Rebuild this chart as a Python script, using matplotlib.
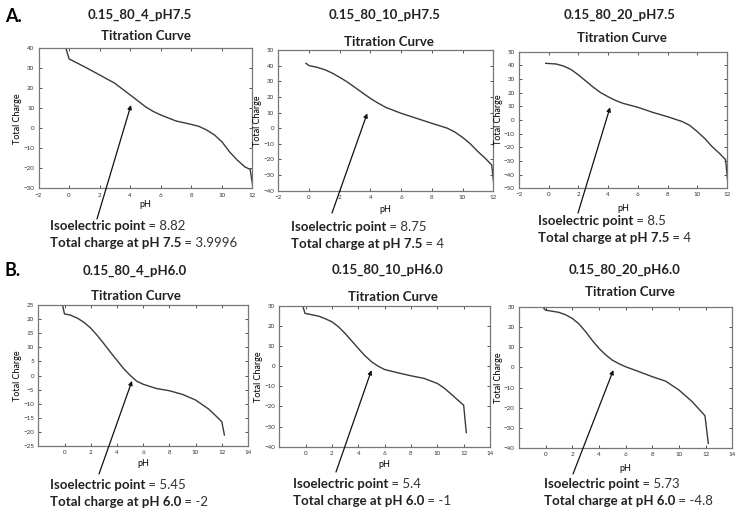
'''titration curves for six 0.15_80 runs, two pH conditions'''

import matplotlib
matplotlib.use('Agg')
import matplotlib.pyplot as plt

plt.rcParams['font.family'] = ['Lato', 'DejaVu Sans']

W, H = 743, 515

titles = ['0.15_80_4_pH7.5', '0.15_80_10_pH7.5', '0.15_80_20_pH7.5',
          '0.15_80_4_pH6.0', '0.15_80_10_pH6.0', '0.15_80_20_pH6.0']

# pH / total charge
ph_1 = [-0.22, 0, 1, 2, 3, 4, 4.5, 5, 5.5, 6, 7, 8, 8.5, 9, 9.5, 10, 10.5, 11, 11.5, 11.85, 12.0]
q_1 = [40.5, 34.7, 30.8, 26.7, 22.5, 16.7, 13.8, 10.8, 8.5, 6.7, 3.7, 2.0, 1.0, -0.8, -3.2, -6.7, -11.7, -15.8, -19.2, -20.5, -28]

ph_2 = [-0.2, 0, 0.5, 1, 1.5, 2, 2.5, 3, 3.5, 4, 4.5, 5, 6, 7, 8, 9, 9.5, 10, 10.5, 11, 11.5, 11.9, 12.05]
q_2 = [41.5, 40, 39, 37.5, 35.3, 32.5, 29.5, 26, 22.5, 19, 16, 13.3, 9.5, 6.3, 3.1, 0, -2.5, -5.9, -10, -15, -19.5, -23.6, -37.5]

ph_3 = [-0.2, 0.5, 1, 1.5, 2, 2.5, 3, 3.5, 4, 4.5, 5, 6, 7, 8, 9, 9.5, 10, 10.5, 11, 11.5, 11.9, 12.05]
q_3 = [41.5, 41, 39.5, 37, 33, 28.5, 24, 20, 17, 14.3, 12.2, 9.3, 5.6, 2.4, -1.2, -4, -8.5, -13.5, -19.5, -24.5, -29, -45]

ph_4 = [-0.15, 0, 0.4, 1, 1.5, 2, 2.5, 3, 3.5, 4, 4.5, 5, 5.5, 6, 7, 8, 9, 10, 11, 11.5, 12, 12.2]
q_4 = [25, 21.8, 21.5, 20.3, 18.8, 16.8, 14.2, 11.3, 8.3, 5.4, 2.5, 0.1, -2, -3.1, -4.6, -5.4, -6.7, -8.7, -11.9, -14.1, -16.4, -21.1]

ph_5 = [-0.2, -0.05, 1, 1.5, 2, 2.5, 3, 3.5, 4, 4.5, 5, 5.5, 6, 7, 8, 9, 10, 10.5, 11, 11.5, 12, 12.2]
q_5 = [29.5, 26.2, 24.8, 23.5, 22, 19.5, 16.2, 12.5, 8.8, 5.2, 2.2, 0, -1.7, -3.3, -4.8, -6.1, -8.6, -10.8, -13.6, -16.5, -19.4, -33]

ph_6 = [-0.05, -0.15, 0, 1, 1.5, 2, 2.5, 3, 3.5, 4, 4.5, 5, 5.5, 6, 7, 8, 9, 10, 11, 11.95, 12.2]
q_6 = [30, 29.2, 28.3, 27.2, 26, 24.2, 21.5, 17.6, 13.3, 9.4, 6.2, 3.6, 1.8, 0.3, -2.1, -4.6, -6.8, -11.2, -17, -23.9, -37.6]

ph_data = [ph_1, ph_2, ph_3, ph_4, ph_5, ph_6]
q_data = [q_1, q_2, q_3, q_4, q_5, q_6]

pi_vals = ['8.82', '8.75', '8.5', '5.45', '5.4', '5.73']
charge_ph = ['7.5', '7.5', '7.5', '6.0', '6.0', '6.0']
charge_vals = ['3.9996', '4', '4', '-2', '-1', '-4.8']

ylims = [(-30, 40), (-40, 50), (-50, 50), (-25, 25), (-40, 30), (-40, 30)]
ysteps = [10, 10, 10, 5, 10, 10]

# layout, all in figure pixels from top-left: axes box (left, right, top, bottom)
boxes = [(38.5, 252.5, 48.3, 188.5), (278.3, 493.3, 50, 190.7), (519, 727, 51.7, 188.3),
         (38.3, 248, 305, 446), (279.3, 490, 305.7, 446.7), (519, 732.3, 306.7, 448.3)]
title_pos = [(140, 15), (385, 15), (620, 15), (135, 271), (388, 270), (625, 270)]
sub_pos = [(146, 36), (389, 42), (622, 38), (136, 296), (393, 297), (630, 292)]
note_pos = [(50, 226), (291, 227), (538, 221), (50, 485), (293, 484), (544, 484)]
tail_pos = [(97, 219), (332, 213), (578, 213), (99, 474), (336, 472), (573, 474)]
heads = [(4.05, 11.7), (3.79, 9.5), (4.13, 9.3), (5.15, -1.9), (5.0, -2.0), (5.08, -1.3)]
xpads = [2, 4, 5, 3, 3, 5]


def fx(x):
    return x / W


def fy(y):
    return 1 - y / H


fig = plt.figure(figsize=(W / 100, H / 100), dpi=100)

fig.text(fx(5), fy(16), 'A.', fontsize=13, weight='bold', va='center')
fig.text(fx(5), fy(271), 'B.', fontsize=13, weight='bold', va='center')

for i in range(6):
    l, r, t, b = boxes[i]
    ax = fig.add_axes([fx(l), fy(b), (r - l) / W, (b - t) / H])
    ax.plot(ph_data[i], q_data[i], color='#3a3a3a', lw=1.0)

    top_row = i < 3
    if top_row:
        ax.set_xlim(-2, 12)
        ax.set_xticks(range(-2, 13, 2))
    else:
        ax.set_xlim(-2, 14)
        ax.set_xticks(range(0, 15, 2))
    lo, hi = ylims[i]
    ax.set_ylim(lo, hi)
    ax.set_yticks(range(lo, hi + 1, ysteps[i]))

    ax.tick_params(direction='in', top=True, right=True, length=2.5, width=0.6,
                   labelsize=4.5, pad=3, colors='#333333')
    for s in ax.spines.values():
        s.set_color('#777777')
        s.set_linewidth(0.9)
    ax.set_xlabel('pH', fontsize=6.5, labelpad=xpads[i])
    ax.set_ylabel('Total Charge', fontsize=6.5, labelpad=1)

    fig.text(fx(title_pos[i][0]), fy(title_pos[i][1]), titles[i], fontsize=9.5,
             weight='bold', ha='center', va='center', color='#222222')
    fig.text(fx(sub_pos[i][0]), fy(sub_pos[i][1]), 'Titration Curve', fontsize=9.5,
             weight='bold', ha='center', va='center', color='#222222')

    # two lines of note under the plot, bold label then plain value
    nx, ny = note_pos[i]
    t1 = fig.text(fx(nx), fy(ny), 'Isoelectric point', fontsize=9.5, weight='bold',
                  va='center', color='#222222')
    ax.annotate(' = ' + pi_vals[i], xy=(1, 0), xycoords=t1, va='bottom',
                fontsize=9.5, color='#333333', annotation_clip=False)
    t2 = fig.text(fx(nx), fy(ny + 17), 'Total charge at pH ' + charge_ph[i], fontsize=9.5,
                  weight='bold', va='center', color='#222222')
    ax.annotate(' = ' + charge_vals[i], xy=(1, 0), xycoords=t2, va='bottom',
                fontsize=9.5, color='#333333', annotation_clip=False)

    ax.annotate('', xy=heads[i], xycoords='data',
                xytext=(fx(tail_pos[i][0]), fy(tail_pos[i][1])), textcoords='figure fraction',
                arrowprops=dict(arrowstyle='-|>', color='#111111', lw=0.9,
                                mutation_scale=6, shrinkA=0, shrinkB=0),
                annotation_clip=False)

fig.savefig('out.png', dpi=100)
